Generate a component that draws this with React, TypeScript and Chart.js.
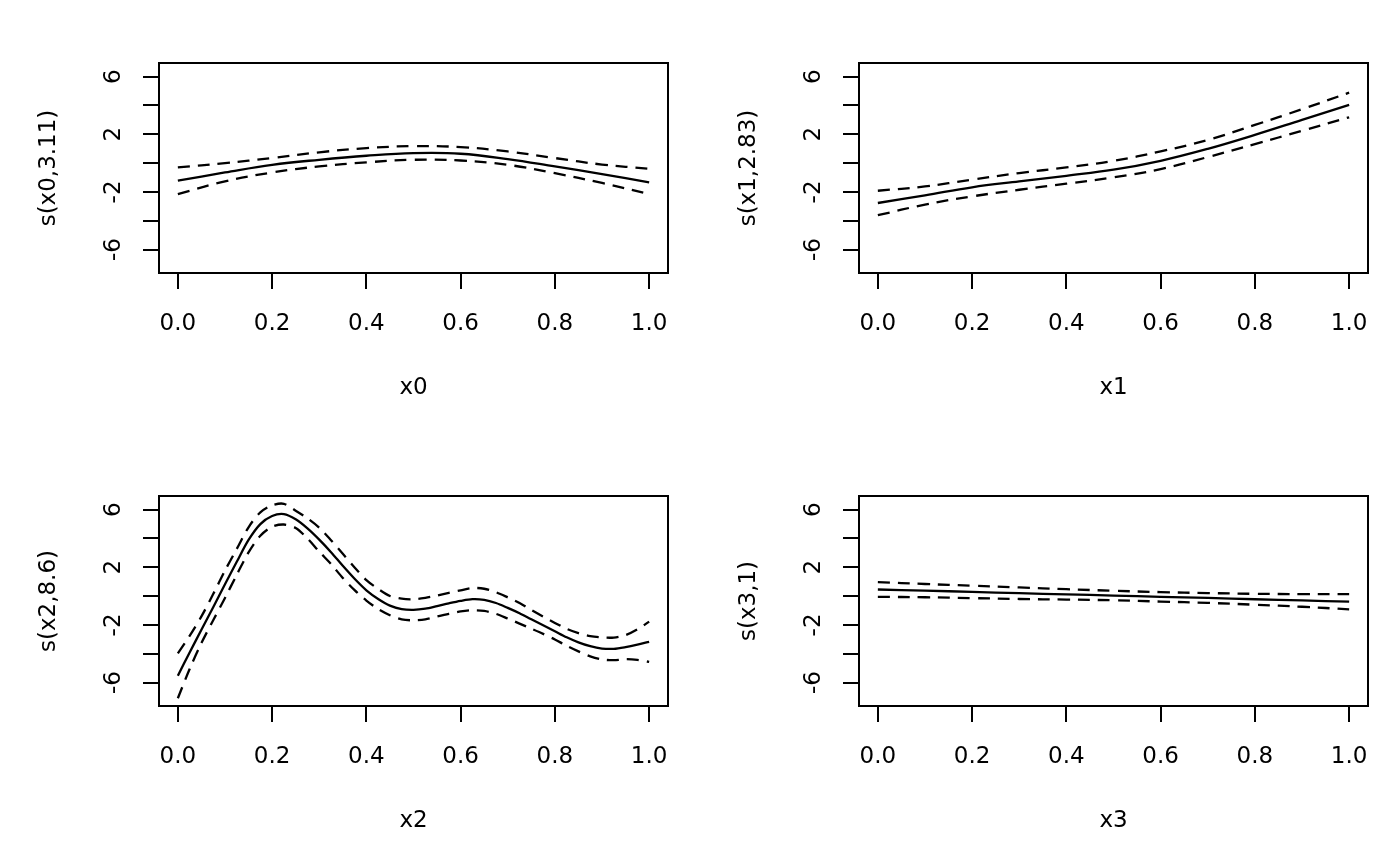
import React, { useEffect, useRef } from "react";
import { Chart, registerables } from "chart.js";

Chart.register(...registerables);

const FONT_FAMILY = "'DejaVu Sans', sans-serif";
const FONT_SIZE = 23;

// axis settings
const xTicks = [0, 0.2, 0.4, 0.6, 0.8, 1.0];
const yTicks = [-6, -4, -2, 0, 2, 4, 6];
const yLabelled = [6, 2, -2, -6];
const X_MIN = -0.04;
const X_MAX = 1.04;
const Y_MIN = -7.63;
const Y_MAX = 6.95;

// panel 1: s(x0,3.11)
const grid10 = [0, 0.1, 0.2, 0.3, 0.4, 0.5, 0.6, 0.7, 0.8, 0.9, 1.0];
const fit0 = [-1.22, -0.65, -0.12, 0.23, 0.51, 0.69, 0.65, 0.28, -0.23, -0.76, -1.34];
const upper0 = [-0.3, 0.0, 0.35, 0.75, 1.04, 1.18, 1.11, 0.81, 0.35, -0.1, -0.39];
const lower0 = [-2.15, -1.27, -0.65, -0.23, 0.05, 0.23, 0.18, -0.12, -0.7, -1.38, -2.14];

// panel 2: s(x1,2.83)
const fit1 = [-2.77, -2.24, -1.68, -1.27, -0.88, -0.46, 0.16, 0.99, 1.96, 3.0, 4.04];
const upper1 = [-1.92, -1.62, -1.15, -0.69, -0.3, 0.16, 0.81, 1.61, 2.65, 3.74, 4.89];
const lower1 = [-3.62, -2.88, -2.31, -1.85, -1.43, -0.99, -0.42, 0.42, 1.32, 2.24, 3.18];

// panel 3: s(x2,8.6)
const grid40 = [
  0, 0.025, 0.05, 0.075, 0.1, 0.125, 0.15, 0.175, 0.2, 0.225,
  0.25, 0.275, 0.3, 0.325, 0.35, 0.375, 0.4, 0.425, 0.45, 0.475,
  0.5, 0.525, 0.55, 0.575, 0.6, 0.625, 0.65, 0.675, 0.7, 0.725,
  0.75, 0.775, 0.8, 0.825, 0.85, 0.875, 0.9, 0.925, 0.95, 0.975, 1.0,
];
const fit2 = [
  -5.53, -3.91, -2.34, -0.77, 0.82, 2.38, 3.9, 5.0, 5.56, 5.69,
  5.33, 4.7, 3.92, 3.05, 2.1, 1.2, 0.4, -0.2, -0.66, -0.9,
  -0.95, -0.87, -0.69, -0.5, -0.33, -0.21, -0.26, -0.48, -0.82, -1.19,
  -1.61, -2.02, -2.44, -2.86, -3.21, -3.48, -3.64, -3.66, -3.54, -3.37, -3.17,
];
const upper2 = [
  -3.97, -2.76, -1.41, 0.14, 1.77, 3.28, 4.78, 5.81, 6.3, 6.41,
  5.93, 5.4, 4.75, 3.88, 2.94, 1.99, 1.11, 0.5, 0.01, -0.18,
  -0.22, -0.12, 0.04, 0.23, 0.4, 0.56, 0.51, 0.27, -0.09, -0.48,
  -0.96, -1.42, -1.86, -2.27, -2.57, -2.78, -2.87, -2.88, -2.71, -2.31, -1.77,
];
const lower2 = [
  -7.09, -5.06, -3.26, -1.68, -0.13, 1.48, 3.03, 4.19, 4.82, 4.97,
  4.73, 4.0, 3.09, 2.23, 1.26, 0.41, -0.31, -0.9, -1.33, -1.62,
  -1.68, -1.62, -1.42, -1.23, -1.06, -0.98, -1.03, -1.23, -1.56, -1.91,
  -2.26, -2.62, -3.01, -3.45, -3.84, -4.18, -4.4, -4.45, -4.38, -4.43, -4.57,
];

// panel 4: s(x3,1)
const fit3 = [0.46, 0.38, 0.29, 0.2, 0.12, 0.04, -0.05, -0.13, -0.22, -0.3, -0.39];
const upper3 = [0.97, 0.84, 0.72, 0.6, 0.48, 0.37, 0.28, 0.21, 0.16, 0.14, 0.14];
const lower3 = [-0.05, -0.08, -0.14, -0.2, -0.24, -0.29, -0.38, -0.47, -0.6, -0.74, -0.92];

const xLabels = ["x0", "x1", "x2", "x3"];
const yLabels = ["s(x0,3.11)", "s(x1,2.83)", "s(x2,8.6)", "s(x3,1)"];

type Panel = {
  xs: number[];
  fit: number[];
  upper: number[];
  lower: number[];
  xlab: string;
  ylab: string;
  tension: number;
};

const panels: Panel[] = [
  { xs: grid10, fit: fit0, upper: upper0, lower: lower0, xlab: xLabels[0], ylab: yLabels[0], tension: 0.4 },
  { xs: grid10, fit: fit1, upper: upper1, lower: lower1, xlab: xLabels[1], ylab: yLabels[1], tension: 0.4 },
  { xs: grid40, fit: fit2, upper: upper2, lower: lower2, xlab: xLabels[2], ylab: yLabels[2], tension: 0.3 },
  { xs: grid10, fit: fit3, upper: upper3, lower: lower3, xlab: xLabels[3], ylab: yLabels[3], tension: 0.4 },
];

const boxPlugin = {
  id: "plotBox",
  afterDraw(chart: any) {
    const { ctx, chartArea: a } = chart;
    ctx.save();
    ctx.strokeStyle = "#000";
    ctx.lineWidth = 2;
    ctx.strokeRect(a.left, a.top, a.right - a.left, a.bottom - a.top);
    ctx.restore();
  },
};

function makeConfig(p: Panel): any {
  const font = { family: FONT_FAMILY, size: FONT_SIZE };
  const mk = (ys: number[], dashed: boolean) => ({
    data: p.xs.map((x, i) => ({ x, y: ys[i] })),
    borderColor: "#000",
    borderWidth: 2.3,
    pointRadius: 0,
    pointHoverRadius: 0,
    tension: p.tension,
    borderDash: dashed ? [12, 8] : [],
    fill: false,
  });
  return {
    type: "line",
    data: { datasets: [mk(p.fit, false), mk(p.upper, true), mk(p.lower, true)] },
    options: {
      animation: false,
      responsive: false,
      maintainAspectRatio: false,
      events: [],
      layout: { padding: { left: 0, top: 63, right: 32, bottom: 0 } },
      plugins: { legend: { display: false }, tooltip: { enabled: false } },
      scales: {
        x: {
          type: "linear",
          min: X_MIN,
          max: X_MAX,
          bounds: "data",
          afterBuildTicks: (s: any) => {
            s.ticks = xTicks.map((v) => ({ value: v }));
          },
          afterFit: (s: any) => {
            s.height = 160;
          },
          grid: { drawOnChartArea: false, drawTicks: true, tickLength: 16, color: "#000", lineWidth: 2 },
          border: { display: false },
          ticks: {
            autoSkip: false,
            maxRotation: 0,
            minRotation: 0,
            padding: 21,
            color: "#000",
            font,
            callback: (v: any) => Number(v).toFixed(1),
          },
          title: { display: true, text: p.xlab, color: "#000", font, padding: { top: 0, bottom: 31 } },
        },
        y: {
          type: "linear",
          min: Y_MIN,
          max: Y_MAX,
          bounds: "data",
          afterBuildTicks: (s: any) => {
            s.ticks = yTicks.map((v) => ({ value: v }));
          },
          afterFit: (s: any) => {
            s.width = 159;
          },
          grid: { drawOnChartArea: false, drawTicks: true, tickLength: 16, color: "#000", lineWidth: 2 },
          border: { display: false },
          ticks: {
            autoSkip: false,
            minRotation: 90,
            maxRotation: 90,
            crossAlign: "center",
            padding: 18,
            color: "#000",
            font,
            callback: (v: any) => (yLabelled.includes(Number(v)) ? String(v) : ""),
          },
          title: { display: true, text: p.ylab, color: "#000", font, padding: { top: 35, bottom: 0 } },
        },
      },
    },
    plugins: [boxPlugin],
  };
}

function PanelChart({ p, left, top }: { p: Panel; left: number; top: number }) {
  const ref = useRef<HTMLCanvasElement | null>(null);
  useEffect(() => {
    if (!ref.current) return;
    const chart = new Chart(ref.current, makeConfig(p));
    return () => chart.destroy();
  }, [p]);
  return (
    <canvas
      ref={ref}
      width={700}
      height={433}
      style={{ position: "absolute", left, top, width: 700, height: 433 }}
    />
  );
}

export default function App() {
  return (
    <div style={{ position: "absolute", left: 0, top: 0, width: 1400, height: 866, background: "#fff" }}>
      <PanelChart p={panels[0]} left={0} top={0} />
      <PanelChart p={panels[1]} left={700} top={0} />
      <PanelChart p={panels[2]} left={0} top={433} />
      <PanelChart p={panels[3]} left={700} top={433} />
    </div>
  );
}
